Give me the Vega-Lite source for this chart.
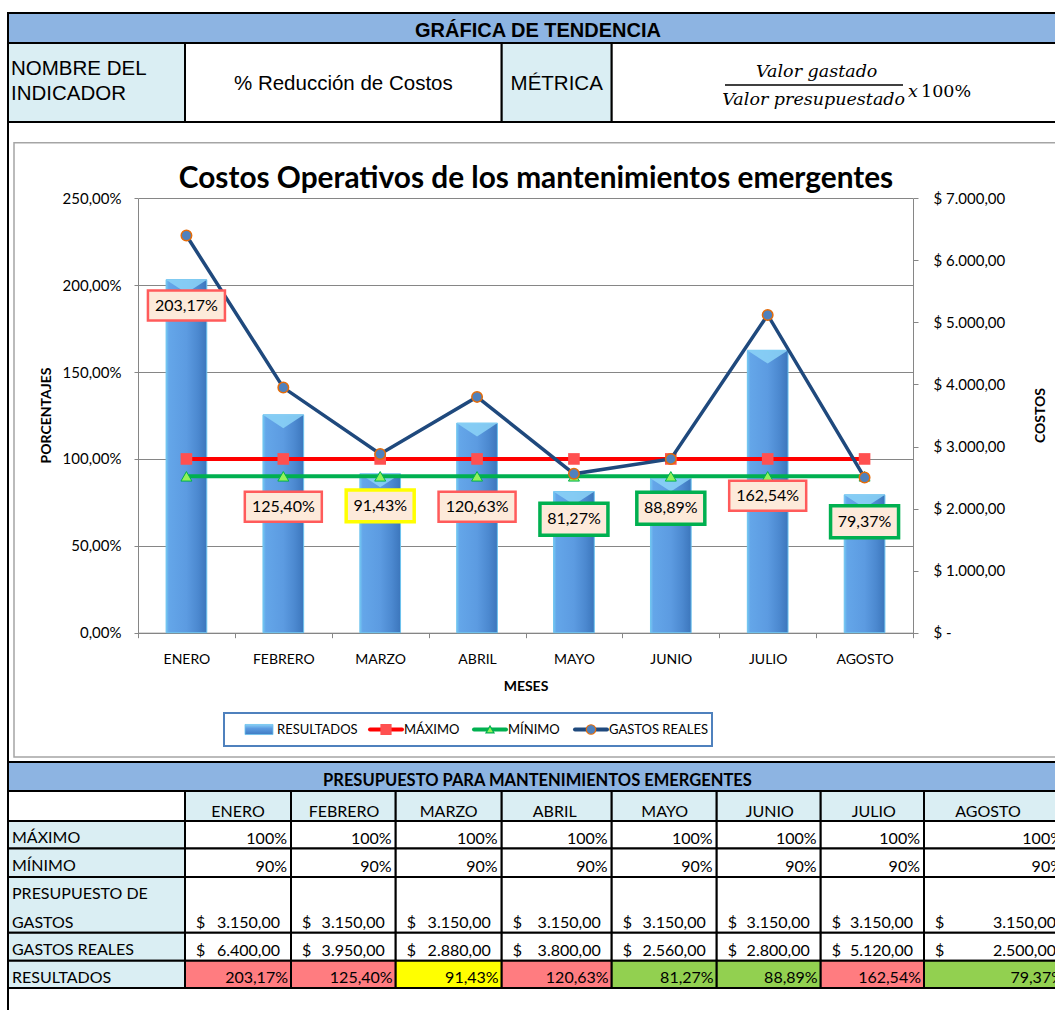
{
"$schema": "https://vega.github.io/schema/vega-lite/v6.json",
"width": 1055, "height": 1010, "autosize": "none", "padding": 0, "background": "white",
"config": {"view": {"stroke": null}, "font": "Lato", "locale": {"number": {"decimal": ",", "thousands": ".", "grouping": [3], "currency": ["$", ""]}}},
"datasets": {
"meses": [
{"mes":"ENERO","col_ini":1,"col_fin":2,"maximo":1,"minimo":0.9,"presupuesto":3150,"gastos":6400,"resultado":2.0317,"nivel_etiqueta":1.883},
{"mes":"FEBRERO","col_ini":2,"col_fin":3,"maximo":1,"minimo":0.9,"presupuesto":3150,"gastos":3950,"resultado":1.254,"nivel_etiqueta":0.725},
{"mes":"MARZO","col_ini":3,"col_fin":4,"maximo":1,"minimo":0.9,"presupuesto":3150,"gastos":2880,"resultado":0.9143,"nivel_etiqueta":0.73},
{"mes":"ABRIL","col_ini":4,"col_fin":5,"maximo":1,"minimo":0.9,"presupuesto":3150,"gastos":3800,"resultado":1.2063,"nivel_etiqueta":0.725},
{"mes":"MAYO","col_ini":5,"col_fin":6,"maximo":1,"minimo":0.9,"presupuesto":3150,"gastos":2560,"resultado":0.8127,"nivel_etiqueta":0.653},
{"mes":"JUNIO","col_ini":6,"col_fin":7,"maximo":1,"minimo":0.9,"presupuesto":3150,"gastos":2800,"resultado":0.8889,"nivel_etiqueta":0.716},
{"mes":"JULIO","col_ini":7,"col_fin":8,"maximo":1,"minimo":0.9,"presupuesto":3150,"gastos":5120,"resultado":1.6254,"nivel_etiqueta":0.788},
{"mes":"AGOSTO","col_ini":8,"col_fin":9,"maximo":1,"minimo":0.9,"presupuesto":3150,"gastos":2500,"resultado":0.7937,"nivel_etiqueta":0.639}
],
"celdas": [
{"c0":0,"c1":9,"r0":0,"r1":1,"tipo":"titulo","texto":"GRÁFICA DE TENDENCIA"},
{"c0":0,"c1":1,"r0":1,"r1":2,"tipo":"rotulo","texto":"NOMBRE DEL\nINDICADOR"},
{"c0":1,"c1":4,"r0":1,"r1":2,"tipo":"contenido","texto":"% Reducción de Costos"},
{"c0":4,"c1":5,"r0":1,"r1":2,"tipo":"rotulo","texto":"MÉTRICA"},
{"c0":5,"c1":9,"r0":1,"r1":2,"tipo":"contenido","texto":""},
{"c0":0,"c1":9,"r0":2,"r1":3,"tipo":"grafico","texto":""},
{"c0":0,"c1":9,"r0":3,"r1":4,"tipo":"titulo","texto":"PRESUPUESTO PARA MANTENIMIENTOS EMERGENTES"},
{"c0":0,"c1":1,"r0":4,"r1":5,"tipo":"contenido","texto":""},
{"c0":0,"c1":1,"r0":5,"r1":6,"tipo":"fila","texto":"MÁXIMO"},
{"c0":0,"c1":1,"r0":6,"r1":7,"tipo":"fila","texto":"MÍNIMO"},
{"c0":0,"c1":1,"r0":7,"r1":8,"tipo":"fila","texto":"PRESUPUESTO DE\nGASTOS"},
{"c0":0,"c1":1,"r0":8,"r1":9,"tipo":"fila","texto":"GASTOS REALES"},
{"c0":0,"c1":1,"r0":9,"r1":10,"tipo":"fila","texto":"RESULTADOS"},
{"c0":0,"c1":9,"r0":10,"r1":11,"tipo":"grafico","texto":""}
],
"leyenda": [
{"serie":"RESULTADOS","orden":0},
{"serie":"MÁXIMO","orden":1},
{"serie":"MÍNIMO","orden":2},
{"serie":"GASTOS REALES","orden":3}
]
},
"resolve": {"scale": {"x": "independent", "y": "independent"}},
"layer": [
{
"data": {"name": "celdas"},
"layer": [
{"mark": {"type": "rect", "stroke": "black", "strokeWidth": 2},
 "encoding": {
  "x": {"field": "c0", "type": "quantitative", "scale": {"domain": [0,1,2,3,4,5,6,7,8,9], "range": [8,185,291,395.7,501.7,611.7,716.7,820.7,924,1067], "nice": false, "zero": false}, "axis": null},
  "x2": {"field": "c1"},
  "y": {"field": "r0", "type": "quantitative", "scale": {"domain": [0,1,2,3,4,5,6,7,8,9,10,11], "range": [13,43,122,762,791,821,848.5,877,932.7,960.7,988,1015], "nice": false, "zero": false}, "axis": null},
  "y2": {"field": "r1"},
  "fill": {"condition": [{"test": "datum.tipo === 'titulo'", "value": "#8DB4E2"}, {"test": "datum.tipo === 'rotulo' || datum.tipo === 'fila'", "value": "#DAEEF3"}], "value": "white"},
  "fillOpacity": {"condition": {"test": "datum.tipo === 'grafico'", "value": 0}, "value": 1}
 }},
{"data": {"name": "meses"}, "mark": {"type": "rect", "stroke": "black", "strokeWidth": 2, "fill": "#DAEEF3"},
 "encoding": {"x": {"field": "col_ini", "type": "quantitative", "axis": null}, "x2": {"field": "col_fin"}, "y": {"datum": 4, "type": "quantitative", "axis": null}, "y2": {"datum": 5}}},
{"data": {"name": "meses"}, "mark": {"type": "rect", "stroke": "black", "strokeWidth": 2, "fill": "white"},
 "encoding": {"x": {"field": "col_ini", "type": "quantitative", "axis": null}, "x2": {"field": "col_fin"}, "y": {"datum": 5, "type": "quantitative", "axis": null}, "y2": {"datum": 6}}},
{"data": {"name": "meses"}, "mark": {"type": "rect", "stroke": "black", "strokeWidth": 2, "fill": "white"},
 "encoding": {"x": {"field": "col_ini", "type": "quantitative", "axis": null}, "x2": {"field": "col_fin"}, "y": {"datum": 6, "type": "quantitative", "axis": null}, "y2": {"datum": 7}}},
{"data": {"name": "meses"}, "mark": {"type": "rect", "stroke": "black", "strokeWidth": 2, "fill": "white"},
 "encoding": {"x": {"field": "col_ini", "type": "quantitative", "axis": null}, "x2": {"field": "col_fin"}, "y": {"datum": 7, "type": "quantitative", "axis": null}, "y2": {"datum": 8}}},
{"data": {"name": "meses"}, "mark": {"type": "rect", "stroke": "black", "strokeWidth": 2, "fill": "white"},
 "encoding": {"x": {"field": "col_ini", "type": "quantitative", "axis": null}, "x2": {"field": "col_fin"}, "y": {"datum": 8, "type": "quantitative", "axis": null}, "y2": {"datum": 9}}},
{"data": {"name": "meses"}, "mark": {"type": "rect", "stroke": "black", "strokeWidth": 2},
 "encoding": {"x": {"field": "col_ini", "type": "quantitative", "axis": null}, "x2": {"field": "col_fin"}, "y": {"datum": 9, "type": "quantitative", "axis": null}, "y2": {"datum": 10},
  "fill": {"condition": [{"test": "datum.resultado > 1", "value": "#FF7C80"}, {"test": "datum.resultado >= 0.9", "value": "#FFFF00"}], "value": "#92D050"}}},
{"transform": [{"filter": "datum.r0 === 0"}],
 "mark": {"type": "text", "font": "Liberation Sans", "fontSize": 20, "fontWeight": "bold", "align": "center", "baseline": "bottom", "dy": -2},
 "encoding": {"x": {"datum": 4.33, "type": "quantitative", "axis": null}, "y": {"field": "r1", "type": "quantitative", "axis": null}, "text": {"field": "texto"}}},
{"transform": [{"filter": "datum.r0 === 3"}],
 "mark": {"type": "text", "font": "Lato", "fontSize": 16.5, "fontWeight": "bold", "align": "center", "baseline": "bottom", "dy": -2.5},
 "encoding": {"x": {"datum": 4.325, "type": "quantitative", "axis": null}, "y": {"field": "r1", "type": "quantitative", "axis": null}, "text": {"field": "texto"}}},
{"transform": [{"filter": "datum.r0 === 1 && datum.c0 === 0"}],
 "mark": {"type": "text", "font": "Liberation Sans", "fontSize": 20.5, "align": "left", "baseline": "alphabetic", "dx": 3, "dy": 32, "lineBreak": "\n", "lineHeight": 25},
 "encoding": {"x": {"field": "c0", "type": "quantitative", "axis": null}, "y": {"field": "r0", "type": "quantitative", "axis": null}, "text": {"field": "texto"}}},
{"transform": [{"filter": "datum.r0 === 1 && datum.c0 === 1"}],
 "mark": {"type": "text", "font": "Liberation Sans", "fontSize": 20.5, "align": "center", "baseline": "alphabetic", "dy": 47},
 "encoding": {"x": {"datum": 2.5, "type": "quantitative", "axis": null}, "y": {"field": "r0", "type": "quantitative", "axis": null}, "text": {"field": "texto"}}},
{"transform": [{"filter": "datum.r0 === 1 && datum.c0 === 4"}],
 "mark": {"type": "text", "font": "Liberation Sans", "fontSize": 20.5, "align": "center", "baseline": "alphabetic", "dy": 47},
 "encoding": {"x": {"datum": 4.5, "type": "quantitative", "axis": null}, "y": {"field": "r0", "type": "quantitative", "axis": null}, "text": {"field": "texto"}}},
{"data": {"values": [{}]},
 "mark": {"type": "text", "text": "Valor gastado", "font": "DejaVu Serif", "fontStyle": "italic", "fontSize": 17.5, "align": "center", "baseline": "alphabetic", "dx": -4, "dy": 34},
 "encoding": {"x": {"datum": 7, "type": "quantitative", "axis": null}, "y": {"datum": 1, "type": "quantitative", "axis": null}}},
{"data": {"values": [{}]},
 "mark": {"type": "text", "text": "Valor presupuestado", "font": "DejaVu Serif", "fontStyle": "italic", "fontSize": 17.5, "align": "center", "baseline": "alphabetic", "dx": -7, "dy": 62},
 "encoding": {"x": {"datum": 7, "type": "quantitative", "axis": null}, "y": {"datum": 1, "type": "quantitative", "axis": null}}},
{"data": {"values": [{}]},
 "mark": {"type": "rule", "color": "black", "strokeWidth": 1.3, "xOffset": 113.3, "x2Offset": -21, "yOffset": 42},
 "encoding": {"x": {"datum": 5, "type": "quantitative", "axis": null}, "x2": {"datum": 8}, "y": {"datum": 1, "type": "quantitative", "axis": null}}},
{"data": {"values": [{}]},
 "mark": {"type": "text", "text": "x", "font": "DejaVu Serif", "fontStyle": "italic", "fontSize": 17.5, "align": "left", "baseline": "alphabetic", "dx": -16, "dy": 54},
 "encoding": {"x": {"datum": 8, "type": "quantitative", "axis": null}, "y": {"datum": 1, "type": "quantitative", "axis": null}}},
{"data": {"values": [{}]},
 "mark": {"type": "text", "text": "100%", "font": "DejaVu Serif", "fontSize": 17.5, "align": "left", "baseline": "alphabetic", "dx": -3, "dy": 54},
 "encoding": {"x": {"datum": 8, "type": "quantitative", "axis": null}, "y": {"datum": 1, "type": "quantitative", "axis": null}}},
{"transform": [{"filter": "datum.tipo === 'fila'"}],
 "mark": {"type": "text", "font": "Lato", "fontSize": 16, "align": "left", "baseline": "alphabetic", "dx": 4, "dy": 22, "lineBreak": "\n", "lineHeight": 28.5},
 "encoding": {"x": {"field": "c0", "type": "quantitative", "axis": null}, "y": {"field": "r0", "type": "quantitative", "axis": null}, "text": {"field": "texto"}}},
{"data": {"name": "meses"}, "transform": [{"filter": "datum.mes !== 'AGOSTO'"}],
 "mark": {"type": "text", "font": "Lato", "fontSize": 16, "align": "center", "baseline": "bottom", "dx": 53, "dy": -1},
 "encoding": {"x": {"field": "col_ini", "type": "quantitative", "axis": null}, "y": {"datum": 5, "type": "quantitative", "axis": null}, "text": {"field": "mes"}}},
{"data": {"name": "meses"}, "transform": [{"filter": "datum.mes === 'AGOSTO'"}],
 "mark": {"type": "text", "font": "Lato", "fontSize": 16, "align": "center", "baseline": "bottom", "dx": 64, "dy": -1},
 "encoding": {"x": {"field": "col_ini", "type": "quantitative", "axis": null}, "y": {"datum": 5, "type": "quantitative", "axis": null}, "text": {"field": "mes"}}},
{"data": {"name": "meses"},
 "mark": {"type": "text", "font": "Lato", "fontSize": 16, "align": "right", "baseline": "bottom", "dx": -4, "dy": -2},
 "encoding": {"x": {"field": "col_fin", "type": "quantitative", "axis": null}, "y": {"datum": 6, "type": "quantitative", "axis": null}, "text": {"field": "maximo", "type": "quantitative", "format": ".0%"}}},
{"data": {"name": "meses"},
 "mark": {"type": "text", "font": "Lato", "fontSize": 16, "align": "right", "baseline": "bottom", "dx": -4, "dy": -2},
 "encoding": {"x": {"field": "col_fin", "type": "quantitative", "axis": null}, "y": {"datum": 7, "type": "quantitative", "axis": null}, "text": {"field": "minimo", "type": "quantitative", "format": ".0%"}}},
{"data": {"name": "meses"},
 "mark": {"type": "text", "text": "$", "font": "Lato", "fontSize": 16, "align": "left", "baseline": "bottom", "dx": 11, "dy": -2},
 "encoding": {"x": {"field": "col_ini", "type": "quantitative", "axis": null}, "y": {"datum": 8, "type": "quantitative", "axis": null}}},
{"data": {"name": "meses"},
 "mark": {"type": "text", "font": "Lato", "fontSize": 16, "align": "right", "baseline": "bottom", "dx": -11, "dy": -2},
 "encoding": {"x": {"field": "col_fin", "type": "quantitative", "axis": null}, "y": {"datum": 8, "type": "quantitative", "axis": null}, "text": {"field": "presupuesto", "type": "quantitative", "format": ",.2f"}}},
{"data": {"name": "meses"},
 "mark": {"type": "text", "text": "$", "font": "Lato", "fontSize": 16, "align": "left", "baseline": "bottom", "dx": 11, "dy": -2},
 "encoding": {"x": {"field": "col_ini", "type": "quantitative", "axis": null}, "y": {"datum": 9, "type": "quantitative", "axis": null}}},
{"data": {"name": "meses"},
 "mark": {"type": "text", "font": "Lato", "fontSize": 16, "align": "right", "baseline": "bottom", "dx": -11, "dy": -2},
 "encoding": {"x": {"field": "col_fin", "type": "quantitative", "axis": null}, "y": {"datum": 9, "type": "quantitative", "axis": null}, "text": {"field": "gastos", "type": "quantitative", "format": ",.2f"}}},
{"data": {"name": "meses"},
 "mark": {"type": "text", "font": "Lato", "fontSize": 16, "align": "right", "baseline": "bottom", "dx": -3, "dy": -2},
 "encoding": {"x": {"field": "col_fin", "type": "quantitative", "axis": null}, "y": {"datum": 10, "type": "quantitative", "axis": null}, "text": {"field": "resultado", "type": "quantitative", "format": ".2%"}}}
]
},
{
"data": {"values": [{}]},
"layer": [
{"mark": {"type": "rect", "fill": "white", "fillOpacity": 0, "stroke": "#A5A5A5", "strokeWidth": 1.5},
 "encoding": {"x": {"datum": 0, "type": "quantitative", "scale": {"domain": [0,1], "range": [14,1058], "nice": false, "zero": false}, "axis": null}, "x2": {"datum": 1},
  "y": {"datum": 0, "type": "quantitative", "scale": {"domain": [0,1], "range": [142.7,757], "nice": false, "zero": false}, "axis": null}, "y2": {"datum": 1}}},
{"mark": {"type": "text", "text": "Costos Operativos de los mantenimientos emergentes", "font": "Lato", "fontSize": 29.8, "fontWeight": "bold", "align": "center", "baseline": "alphabetic", "dy": 45},
 "encoding": {"x": {"datum": 0.5, "type": "quantitative", "axis": null}, "y": {"datum": 0, "type": "quantitative", "axis": null}}}
]
},
{
"data": {"name": "meses"},
"mark": {"type": "bar", "width": {"band": 0.42}, "stroke": "#6CC3EF", "strokeWidth": 1,
  "fill": {"gradient": "linear", "x1": 0, "y1": 0, "x2": 1, "y2": 0, "stops": [{"offset": 0, "color": "#74C6F2"}, {"offset": 0.07, "color": "#64A6E9"}, {"offset": 0.5, "color": "#5C9BE1"}, {"offset": 0.78, "color": "#4C89D0"}, {"offset": 1, "color": "#3C76BC"}]}},
"encoding": {
  "x": {"field": "mes", "type": "nominal", "scale": {"type": "band", "domain": ["ENERO","FEBRERO","MARZO","ABRIL","MAYO","JUNIO","JULIO","AGOSTO"], "range": [138,913], "paddingInner": 0, "paddingOuter": 0},
   "axis": {"orient": "bottom", "offset": -377.3, "title": "MESES", "labelAngle": 0, "tickBand": "extent", "tickSize": 5, "tickColor": "#868686", "domainColor": "#868686", "grid": false,
    "labelFont": "Lato", "labelFontSize": 14, "labelColor": "black", "labelPadding": 15,
    "titleFont": "Lato", "titleFontSize": 14, "titleFontWeight": "bold", "titleColor": "black", "titleX": 525.5, "titleY": 53.3, "titleBaseline": "middle", "titleAlign": "center"}},
  "y": {"field": "resultado", "type": "quantitative", "scale": {"domain": [0, 2.5], "range": [632.7, 198.3], "nice": false, "zero": true},
   "axis": {"orient": "left", "offset": -138, "values": [0, 0.5, 1, 1.5, 2, 2.5], "format": ".2%", "grid": true, "gridColor": "#868686", "gridWidth": 1,
    "tickSize": 4, "tickColor": "#868686", "domainColor": "#868686", "labelFont": "Lato", "labelFontSize": 15, "labelColor": "black", "labelPadding": 13, "labelFlush": false,
    "title": "PORCENTAJES", "titleFont": "Lato", "titleFontSize": 14, "titleFontWeight": "bold", "titleColor": "black", "titleAngle": 270, "titleX": -92, "titleY": 415, "titleBaseline": "middle", "titleAlign": "center"}}
}
},
{
"data": {"name": "meses"},
"layer": [
{"mark": {"type": "point", "shape": "M-1,0L1,0L0,0.65Z", "size": 1681, "filled": true, "fill": "#8CD3F7", "opacity": 0.85, "strokeWidth": 0},
 "encoding": {"x": {"field": "mes", "type": "nominal", "scale": {"type": "band", "domain": ["ENERO","FEBRERO","MARZO","ABRIL","MAYO","JUNIO","JULIO","AGOSTO"], "range": [138,913], "paddingInner": 0, "paddingOuter": 0}, "axis": null},
  "y": {"field": "resultado", "type": "quantitative", "scale": {"domain": [0, 2.5], "range": [632.7, 198.3], "nice": false, "zero": true}, "axis": null}}},
{"mark": {"type": "line", "color": "#FF0000", "strokeWidth": 4},
 "encoding": {"x": {"field": "mes", "type": "nominal", "axis": null}, "y": {"field": "maximo", "type": "quantitative", "axis": null}}},
{"mark": {"type": "point", "shape": "square", "filled": true, "fill": "#FF5050", "size": 135, "opacity": 1},
 "encoding": {"x": {"field": "mes", "type": "nominal", "axis": null}, "y": {"field": "maximo", "type": "quantitative", "axis": null}}},
{"mark": {"type": "line", "color": "#00B050", "strokeWidth": 4},
 "encoding": {"x": {"field": "mes", "type": "nominal", "axis": null}, "y": {"field": "minimo", "type": "quantitative", "axis": null}}},
{"mark": {"type": "point", "shape": "triangle-up", "filled": true, "fill": "#92F25A", "stroke": "#00B050", "strokeWidth": 1, "size": 121, "opacity": 1},
 "encoding": {"x": {"field": "mes", "type": "nominal", "axis": null}, "y": {"field": "minimo", "type": "quantitative", "axis": null}}}
]
},
{
"data": {"name": "meses"},
"mark": {"type": "line", "color": "#1F497D", "strokeWidth": 3.5},
"encoding": {
  "x": {"field": "mes", "type": "nominal", "scale": {"type": "band", "domain": ["ENERO","FEBRERO","MARZO","ABRIL","MAYO","JUNIO","JULIO","AGOSTO"], "range": [138,913], "paddingInner": 0, "paddingOuter": 0}, "axis": null},
  "y": {"field": "gastos", "type": "quantitative", "scale": {"domain": [0, 7000], "range": [632.7, 198.3], "nice": false, "zero": true},
   "axis": {"orient": "right", "offset": -142, "values": [0,1000,2000,3000,4000,5000,6000,7000], "format": ",.2f", "labelExpr": "datum.value === 0 ? '$ -' : '$ ' + datum.label", "grid": false,
    "tickSize": 5, "tickColor": "#868686", "domainColor": "#868686", "labelFont": "Lato", "labelFontSize": 15, "labelColor": "black", "labelPadding": 15, "labelFlush": false,
    "title": "COSTOS", "titleFont": "Lato", "titleFontSize": 14, "titleFontWeight": "bold", "titleColor": "black", "titleAngle": 270, "titleX": 127, "titleY": 415, "titleBaseline": "middle", "titleAlign": "center"}}
}
},
{
"data": {"name": "meses"},
"mark": {"type": "point", "shape": "circle", "filled": true, "fill": "#4F81BD", "stroke": "#E46C0A", "strokeWidth": 1.5, "size": 110, "opacity": 1},
"encoding": {
  "x": {"field": "mes", "type": "nominal", "scale": {"type": "band", "domain": ["ENERO","FEBRERO","MARZO","ABRIL","MAYO","JUNIO","JULIO","AGOSTO"], "range": [138,913], "paddingInner": 0, "paddingOuter": 0}, "axis": null},
  "y": {"field": "gastos", "type": "quantitative", "scale": {"domain": [0, 7000], "range": [632.7, 198.3], "nice": false, "zero": true}, "axis": null}
}
},
{
"data": {"name": "meses"},
"layer": [
{"mark": {"type": "point", "filled": true, "fill": "#FDEADA", "opacity": 1},
 "encoding": {
  "x": {"field": "mes", "type": "nominal", "scale": {"type": "band", "domain": ["ENERO","FEBRERO","MARZO","ABRIL","MAYO","JUNIO","JULIO","AGOSTO"], "range": [138,913], "paddingInner": 0, "paddingOuter": 0}, "axis": null},
  "y": {"field": "nivel_etiqueta", "type": "quantitative", "scale": {"domain": [0, 2.5], "range": [632.7, 198.3], "nice": false, "zero": true}, "axis": null},
  "shape": {"condition": {"test": "datum.resultado > 1", "value": "M-1,-0.39H1V0.39H-1Z"}, "value": "M-1,-0.47H1V0.47H-1Z"},
  "size": {"condition": {"test": "datum.resultado > 1", "value": 5929}, "value": 4624},
  "stroke": {"condition": [{"test": "datum.resultado > 1", "value": "#FF5B5B"}, {"test": "datum.resultado >= 0.9", "value": "#FFFF00"}], "value": "#00B050"},
  "strokeWidth": {"condition": {"test": "datum.resultado > 1", "value": 2.5}, "value": 3.5}
 }},
{"mark": {"type": "text", "font": "Lato", "fontSize": 16, "color": "black"},
 "encoding": {"x": {"field": "mes", "type": "nominal", "axis": null}, "y": {"field": "nivel_etiqueta", "type": "quantitative", "axis": null}, "text": {"field": "resultado", "type": "quantitative", "format": ".2%"}}}
]
},
{
"data": {"name": "leyenda"},
"layer": [
{"data": {"values": [{}]}, "mark": {"type": "rect", "fill": "white", "stroke": "#4F81BD", "strokeWidth": 2},
 "encoding": {"x": {"datum": -1, "type": "quantitative", "scale": {"domain": [-1,0,1,2,3,4], "range": [224,259,386,490,591,712], "nice": false, "zero": false}, "axis": null}, "x2": {"datum": 4},
  "y": {"datum": 0, "type": "quantitative", "scale": {"domain": [0,1], "range": [713,746], "nice": false, "zero": false}, "axis": null}, "y2": {"datum": 1}}},
{"transform": [{"filter": "datum.orden > 0"}],
 "mark": {"type": "point", "shape": "M-1,0H1", "size": 1024, "filled": false, "strokeWidth": 4, "strokeCap": "round", "opacity": 1},
 "encoding": {"x": {"field": "orden", "type": "quantitative", "axis": null}, "y": {"datum": 0.5, "type": "quantitative", "axis": null},
  "stroke": {"condition": [{"test": "datum.serie === 'MÁXIMO'", "value": "#FF0000"}, {"test": "datum.serie === 'MÍNIMO'", "value": "#00B050"}], "value": "#1F497D"}}},
{"transform": [{"filter": "datum.orden === 0"}],
 "mark": {"type": "point", "shape": "M-1,-0.36H1V0.36H-1Z", "size": 784, "filled": true, "opacity": 1, "stroke": "#6CC3EF", "strokeWidth": 0.8,
  "fill": {"gradient": "linear", "x1": 0, "y1": 0, "x2": 0, "y2": 1, "stops": [{"offset": 0, "color": "#8AD0F5"}, {"offset": 0.4, "color": "#5C9BE1"}, {"offset": 1, "color": "#3F7BC2"}]}},
 "encoding": {"x": {"field": "orden", "type": "quantitative", "axis": null}, "y": {"datum": 0.5, "type": "quantitative", "axis": null}}},
{"transform": [{"filter": "datum.orden > 0"}],
 "mark": {"type": "point", "filled": true, "opacity": 1, "strokeWidth": 1.2},
 "encoding": {"x": {"field": "orden", "type": "quantitative", "axis": null}, "y": {"datum": 0.5, "type": "quantitative", "axis": null},
  "shape": {"condition": [{"test": "datum.serie === 'MÁXIMO'", "value": "square"}, {"test": "datum.serie === 'MÍNIMO'", "value": "triangle-up"}], "value": "circle"},
  "size": {"condition": [{"test": "datum.serie === 'MÁXIMO'", "value": 100}, {"test": "datum.serie === 'MÍNIMO'", "value": 64}], "value": 90},
  "fill": {"condition": [{"test": "datum.serie === 'MÁXIMO'", "value": "#FF5050"}, {"test": "datum.serie === 'MÍNIMO'", "value": "#92F25A"}], "value": "#4F81BD"},
  "stroke": {"condition": [{"test": "datum.serie === 'MÁXIMO'", "value": "#FF5050"}, {"test": "datum.serie === 'MÍNIMO'", "value": "#00B050"}], "value": "#E46C0A"}}},
{"mark": {"type": "text", "font": "Lato", "fontSize": 13, "align": "left", "baseline": "middle", "dx": 18, "color": "black"},
 "encoding": {"x": {"field": "orden", "type": "quantitative", "axis": null}, "y": {"datum": 0.5, "type": "quantitative", "axis": null}, "text": {"field": "serie"}}}
]
}
]
}
